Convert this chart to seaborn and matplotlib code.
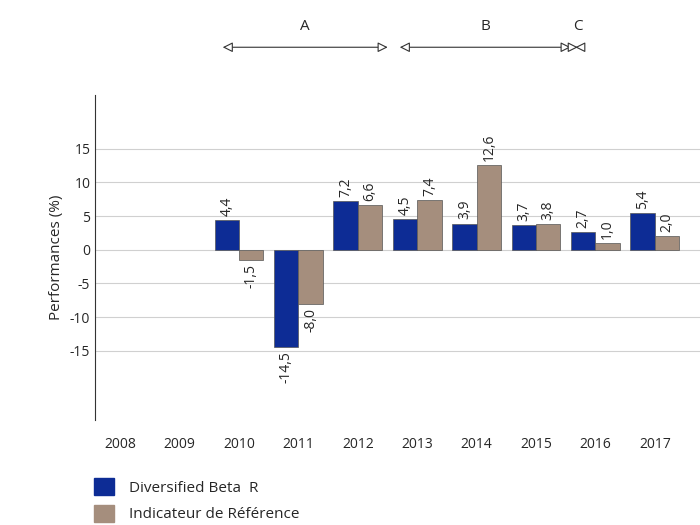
import numpy as np
import pandas as pd
import seaborn as sns
import matplotlib.pyplot as plt
import matplotlib.transforms as mtransforms
from matplotlib.patches import Patch

years = ["2008", "2009", "2010", "2011", "2012", "2013", "2014", "2015", "2016", "2017"]
fund = [np.nan, np.nan, 4.4, -14.5, 7.2, 4.5, 3.9, 3.7, 2.7, 5.4]
bench = [np.nan, np.nan, -1.5, -8.0, 6.6, 7.4, 12.6, 3.8, 1.0, 2.0]
series = ["Diversified Beta  R", "Indicateur de Référence"]
colors = ["#0d2c95", "#a58e7d"]

df = pd.DataFrame({"year": years * 2, "value": fund + bench,
                   "serie": [series[0]] * 10 + [series[1]] * 10})

sns.set_style("white")
plt.rcParams['font.family'] = ['Open Sans', 'DejaVu Sans']
fig = plt.figure(figsize=(7, 5.25), dpi=100)
ax = fig.add_axes([0.136, 0.2, 0.864, 0.619])

sns.barplot(data=df, x="year", y="value", hue="serie", palette=colors,
            width=0.82, saturation=1, edgecolor="#555555", linewidth=0.5,
            legend=False, ax=ax)

ax.set_xlim(-0.42, 9.76)
ax.set_ylim(-25.3, 23)
ax.set_yticks([-15, -10, -5, 0, 5, 10, 15])
ax.set_yticklabels(["-15", "-10", "-5", "0", "5", "10", "15"])
ax.grid(axis="y", color="#d0d0d0", linewidth=0.8)
ax.set_axisbelow(True)
for s in ["top", "right", "bottom"]:
    ax.spines[s].set_visible(False)
ax.spines["left"].set_color("#333333")
ax.tick_params(axis="x", length=0, pad=12)
ax.tick_params(axis="y", length=0)
ax.set_xlabel("")
ax.set_ylabel("Performances (%)", fontsize=11)

off = 0.41 / 2
for i in range(10):
    for vals, dx in ((fund, -off), (bench, off)):
        v = vals[i]
        if np.isnan(v):
            continue
        txt = f"{v:.1f}".replace(".", ",")
        ax.text(i + dx, v + (0.6 if v >= 0 else -0.6), txt, rotation=90,
                ha="center", va="bottom" if v >= 0 else "top", fontsize=10)

trans = mtransforms.blended_transform_factory(ax.transData, fig.transFigure)
arrows = [("A", 1.68, 4.55), ("B", 4.66, 7.63), ("C", 7.66, 7.75)]
for lab, x0, x1 in arrows:
    ax.annotate("", xy=(x0, 0.91), xytext=(x1, 0.91), xycoords=trans, textcoords=trans,
                arrowprops=dict(arrowstyle="<|-|>", color="#333333", fc="white",
                                lw=0.8, mutation_scale=15), annotation_clip=False)
    ax.text((x0 + x1) / 2, 0.935, lab, transform=trans, ha="center", va="bottom", fontsize=11)

handles = [Patch(color=c) for c in colors]
fig.legend(handles, series, loc="upper left", bbox_to_anchor=(0.115, 0.115),
           frameon=False, fontsize=11, handlelength=1.3, handleheight=1.3,
           labelspacing=0.6, handletextpad=1.0)

fig.savefig("out.png", dpi=100)
